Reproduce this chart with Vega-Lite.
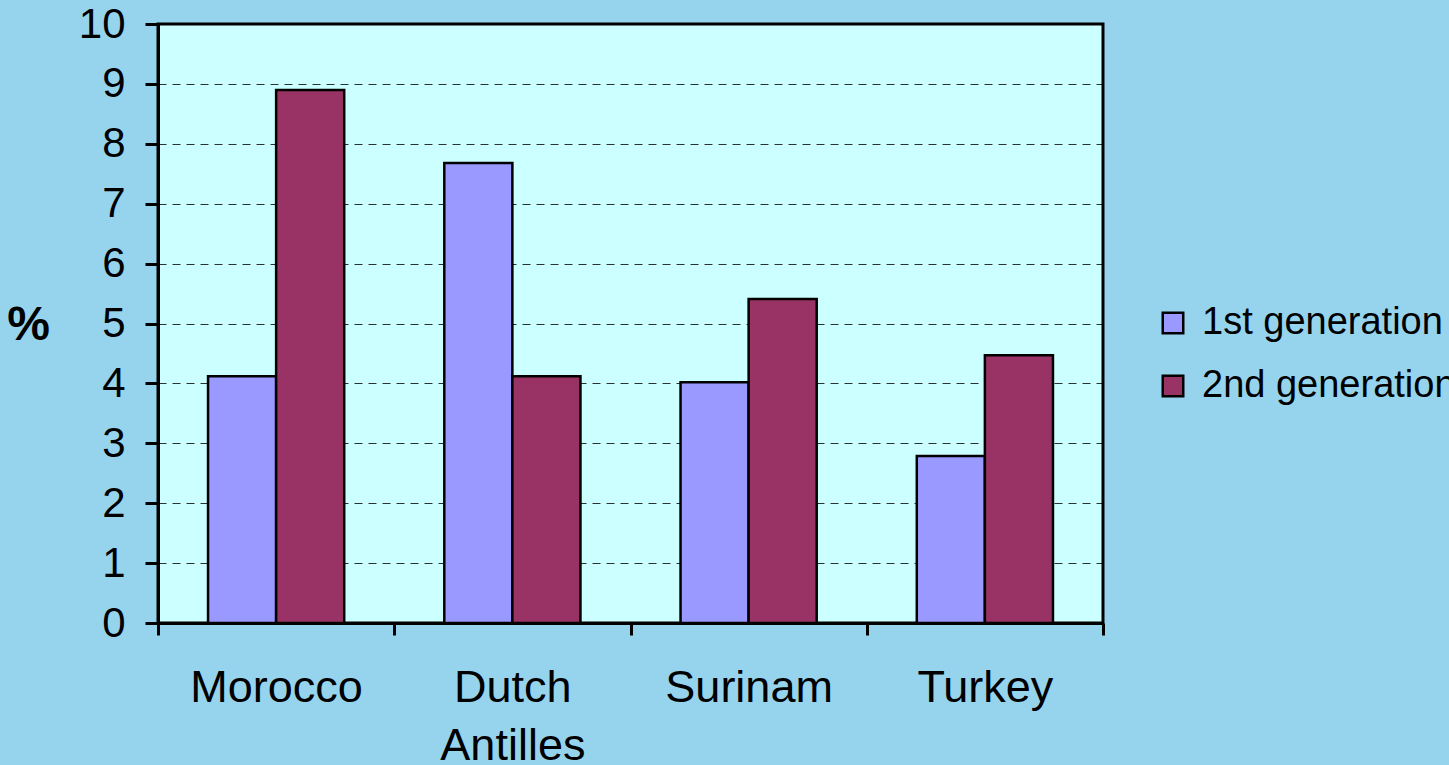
{
  "$schema": "https://vega.github.io/schema/vega-lite/v6.json",
  "width": 945,
  "height": 599,
  "autosize": {"type": "none"},
  "padding": {"left": 158, "top": 24, "right": 346, "bottom": 142},
  "background": "#96D4EE",
  "config": {
    "font": "Liberation Sans",
    "view": {"fill": "#CCFFFF", "stroke": "#000000", "strokeWidth": 3}
  },
  "data": {
    "values": [
      {"country": "Morocco", "generation": "1st generation", "pct": 4.12},
      {"country": "Morocco", "generation": "2nd generation", "pct": 8.9},
      {"country": "Dutch Antilles", "generation": "1st generation", "pct": 7.68},
      {"country": "Dutch Antilles", "generation": "2nd generation", "pct": 4.12},
      {"country": "Surinam", "generation": "1st generation", "pct": 4.02},
      {"country": "Surinam", "generation": "2nd generation", "pct": 5.41},
      {"country": "Turkey", "generation": "1st generation", "pct": 2.79},
      {"country": "Turkey", "generation": "2nd generation", "pct": 4.47}
    ]
  },
  "mark": {"type": "bar", "stroke": "#000000", "strokeWidth": 2.5},
  "encoding": {
    "x": {
      "field": "country", "type": "nominal", "sort": null,
      "scale": {"paddingInner": 0, "paddingOuter": 0},
      "axis": {
        "title": null, "labelAngle": 0, "labelFontSize": 45, "labelColor": "#000000",
        "labelPadding": 30, "tickBand": "extent", "tickSize": 12, "tickWidth": 3, "tickColor": "#000000",
        "domainColor": "#000000", "domainWidth": 3, "labelLineHeight": 58,
        "labelExpr": "datum.label == 'Dutch Antilles' ? ['Dutch', 'Antilles'] : datum.label"
      }
    },
    "xOffset": {"field": "generation", "type": "nominal", "scale": {"paddingInner": 0, "paddingOuter": 0.735}},
    "y": {
      "field": "pct", "type": "quantitative",
      "scale": {"domain": [0, 10], "nice": false},
      "axis": {
        "title": "%", "titleAngle": 0, "titleFontSize": 48, "titleFontWeight": "bold", "titleColor": "#000000",
        "titleX": -130, "titleY": 301, "titleAlign": "center", "titleBaseline": "middle",
        "values": [0, 1, 2, 3, 4, 5, 6, 7, 8, 9, 10], "labelOverlap": false,
        "labelFontSize": 42, "labelColor": "#000000", "labelPadding": 20,
        "tickSize": 13, "tickWidth": 3, "tickColor": "#000000",
        "domainColor": "#000000", "domainWidth": 3,
        "grid": true, "gridColor": "#000000", "gridDash": [8, 6], "gridWidth": 1, "gridOpacity": 0.8
      }
    },
    "color": {
      "field": "generation", "type": "nominal",
      "scale": {"domain": ["1st generation", "2nd generation"], "range": ["#9999FF", "#993366"]},
      "legend": {
        "title": null, "orient": "none", "legendX": 996, "legendY": 280,
        "symbolType": "square", "symbolSize": 420, "symbolStrokeColor": "#000000", "symbolStrokeWidth": 2.5,
        "labelFontSize": 38, "labelColor": "#000000", "rowPadding": 25, "labelOffset": 10, "labelLimit": 400
      }
    }
  }
}
